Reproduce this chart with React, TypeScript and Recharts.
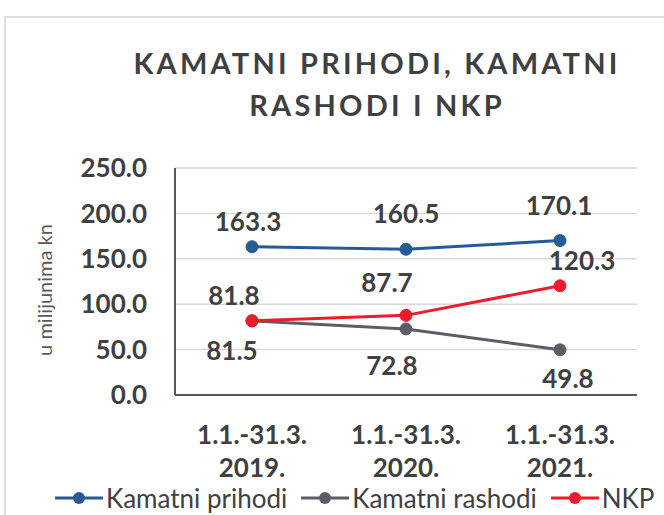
import { LineChart, Line, XAxis, YAxis, CartesianGrid, Legend, LabelList } from "recharts";

const periods = ["1.1.-31.3.|2019.", "1.1.-31.3.|2020.", "1.1.-31.3.|2021."];
const kamatniPrihodi = [163.3, 160.5, 170.1];
const kamatniRashodi = [81.5, 72.8, 49.8];
const nkp = [81.8, 87.7, 120.3];
const yTicks = [0, 50, 100, 150, 200, 250];

const data = periods.map((p, i) => ({
  period: p,
  prihodi: kamatniPrihodi[i],
  rashodi: kamatniRashodi[i],
  nkp: nkp[i],
}));

const FONT = "Lato, 'Open Sans', sans-serif";
const TEXT = "#404040";
const BLUE = "#275b96";
const GRAY = "#5d5d68";
const RED = "#ec1c2c";

// label nudges (dx, dy from point to label centre), as placed in the original
const labelShift: Record<string, [number, number][]> = {
  prihodi: [[-4, -25], [0, -35], [-1, -35]],
  nkp: [[-18, -25], [-19, -32], [22, -25]],
  rashodi: [[-20, 30], [-14, 37], [8, 29]],
};

const makeLabel = (key: string) => (props: any) => {
  const x = props.x ?? props.viewBox?.x;
  const y = props.y ?? props.viewBox?.y;
  const [dx, dy] = labelShift[key][props.index] || [0, 0];
  return (
    <text
      x={x + dx}
      y={y + dy + 9}
      textAnchor="middle"
      fill={TEXT}
      fontFamily={FONT}
      fontWeight={700}
      fontSize={26}
    >
      {Number(props.value).toFixed(1)}
    </text>
  );
};

const XTick = (props: any) => {
  const { x, y, payload } = props;
  const [line1, line2] = String(payload.value).split("|");
  return (
    <g>
      <text x={x} y={y + 49} textAnchor="middle" fill={TEXT} fontFamily={FONT} fontWeight={700} fontSize={26}>
        {line1}
      </text>
      <text x={x} y={y + 82} textAnchor="middle" fill={TEXT} fontFamily={FONT} fontWeight={700} fontSize={26}>
        {line2}
      </text>
    </g>
  );
};

const YLabel = () => (
  <text
    x={0}
    y={0}
    transform="translate(52 290) rotate(-90)"
    textAnchor="middle"
    fill="#595959"
    fontFamily={FONT}
    fontSize={20}
  >
    u milijunima kn
  </text>
);

const legendItems = [
  { name: "Kamatni prihodi", color: BLUE },
  { name: "Kamatni rashodi", color: GRAY },
  { name: "NKP", color: RED },
];

const LegendContent = () => (
  <div style={{ display: "flex", alignItems: "center", paddingLeft: 55, height: 32, whiteSpace: "nowrap" }}>
    {legendItems.map((item) => (
      <div key={item.name} style={{ display: "flex", alignItems: "center", marginRight: 14, flexShrink: 0 }}>
        <svg width={48} height={16} style={{ marginRight: 3, flexShrink: 0 }}>
          <line x1={0} y1={8} x2={48} y2={8} stroke={item.color} strokeWidth={3} />
          <circle cx={24} cy={8} r={6} fill={item.color} />
        </svg>
        <span style={{ fontFamily: FONT, fontSize: 26, color: TEXT, lineHeight: "32px" }}>{item.name}</span>
      </div>
    ))}
  </div>
);

export default function App() {
  return (
    <div
      style={{
        position: "absolute",
        left: 0,
        top: 0,
        width: 664,
        height: 515,
        overflow: "hidden",
        background: "#fff",
      }}
    >
      <div
        style={{
          position: "absolute",
          left: 4,
          top: 16,
          width: 720,
          height: 600,
          borderTop: "2px solid #dcdcdc",
          borderLeft: "2px solid #dcdcdc",
        }}
      />
      <div
        style={{
          position: "absolute",
          left: 133,
          top: 42,
          width: 488,
          textAlign: "center",
          fontFamily: FONT,
          fontWeight: 700,
          fontSize: 29,
          letterSpacing: 3.2,
          lineHeight: "42px",
          color: TEXT,
        }}
      >
        KAMATNI PRIHODI, KAMATNI
        <br />
        RASHODI I NKP
      </div>
      <div style={{ position: "absolute", left: 0, top: 0 }}>
        <LineChart width={664} height={515} data={data} margin={{ top: 168, right: 27, left: 0, bottom: 0 }}>
          <CartesianGrid vertical={false} stroke="#d9d9d9" strokeWidth={1.5} />
          <XAxis
            dataKey="period"
            height={88}
            padding={{ left: 77, right: 77 }}
            axisLine={{ stroke: "#595959", strokeWidth: 2 }}
            tickLine={false}
            tickSize={0}
            tickMargin={0}
            tick={<XTick />}
            interval={0}
          />
          <YAxis
            width={175}
            domain={[0, 250]}
            ticks={yTicks}
            axisLine={{ stroke: "#595959", strokeWidth: 2 }}
            tickLine={false}
            tickSize={0}
            tickMargin={28}
            tickFormatter={(v: number) => v.toFixed(1)}
            tick={{ fill: TEXT, fontFamily: FONT, fontWeight: 700, fontSize: 26 }}
            label={YLabel}
          />
          <Legend
            verticalAlign="bottom"
            height={32}
            content={LegendContent}
            wrapperStyle={{ top: 482, left: 0, width: 664 }}
          />
          <Line
            dataKey="prihodi"
            stroke={BLUE}
            strokeWidth={3}
            dot={{ r: 6, fill: BLUE, stroke: BLUE, strokeWidth: 1 }}
            isAnimationActive={false}
          >
            <LabelList dataKey="prihodi" content={makeLabel("prihodi")} />
          </Line>
          <Line
            dataKey="rashodi"
            stroke={GRAY}
            strokeWidth={3}
            dot={{ r: 6, fill: GRAY, stroke: GRAY, strokeWidth: 1 }}
            isAnimationActive={false}
          >
            <LabelList dataKey="rashodi" content={makeLabel("rashodi")} />
          </Line>
          <Line
            dataKey="nkp"
            stroke={RED}
            strokeWidth={3}
            dot={{ r: 6, fill: RED, stroke: RED, strokeWidth: 1 }}
            isAnimationActive={false}
          >
            <LabelList dataKey="nkp" content={makeLabel("nkp")} />
          </Line>
        </LineChart>
      </div>
    </div>
  );
}
